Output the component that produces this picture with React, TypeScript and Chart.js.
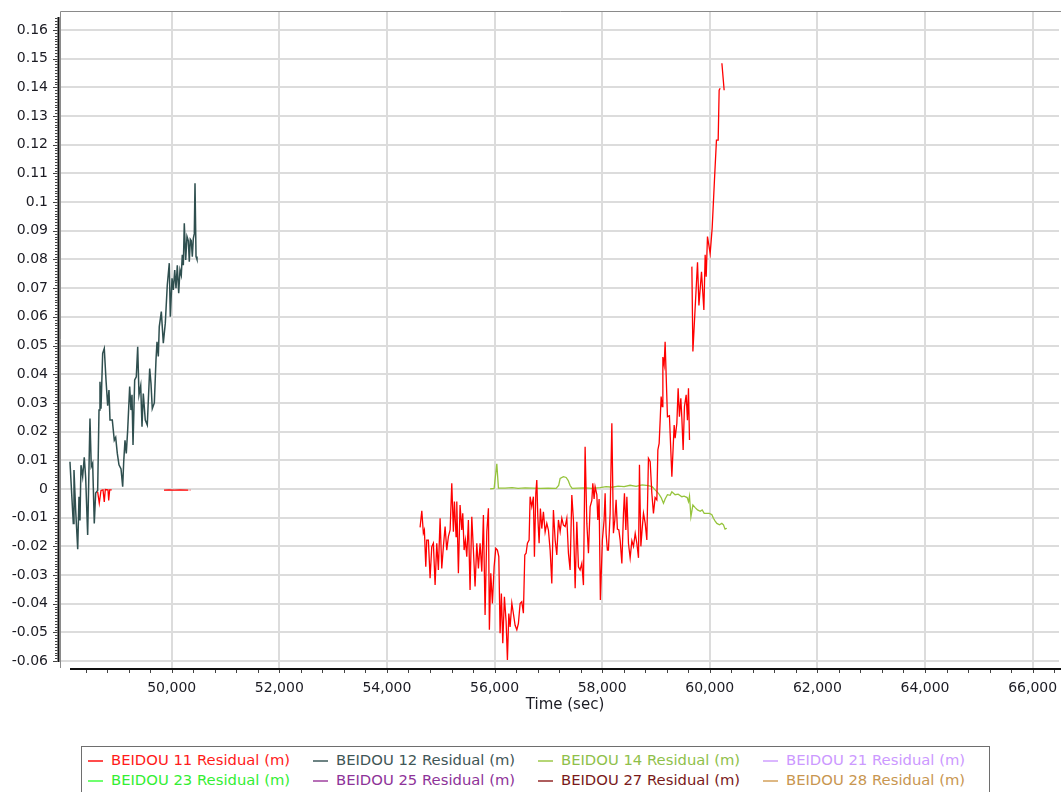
import React, { useEffect, useRef } from 'react';
import { Chart, registerables } from 'chart.js';

Chart.register(...registerables);

const FONT = "'DejaVu Sans', Verdana, sans-serif";
const X_MIN = 47924;
const X_MAX = 66490;
const Y_MIN = -0.0624;
const Y_MAX = 0.1666;
const X_TITLE = 'Time (sec)';

const xTickValues = [50000, 52000, 54000, 56000, 58000, 60000, 62000, 64000, 66000];
const yTickValues = [
  -0.06, -0.05, -0.04, -0.03, -0.02, -0.01, 0, 0.01, 0.02, 0.03, 0.04, 0.05, 0.06, 0.07, 0.08, 0.09, 0.1,
  0.11, 0.12, 0.13, 0.14, 0.15, 0.16,
];

const seriesNames = [
  'BEIDOU 11 Residual (m)', 'BEIDOU 12 Residual (m)', 'BEIDOU 14 Residual (m)', 'BEIDOU 21 Residual (m)',
  'BEIDOU 23 Residual (m)', 'BEIDOU 25 Residual (m)', 'BEIDOU 27 Residual (m)', 'BEIDOU 28 Residual (m)',
];
const seriesColors = ['#ff0000', '#2f4f4f', '#96c43c', '#cc99ff', '#33ff33', '#993399', '#8b1a1a', '#d09a50'];
const seriesWidths = [1.3, 1.5, 1.3, 1.3, 1.3, 1.3, 1.3, 1.3];
const legendTextColors = ['#ff1a1a', '#3f5656', '#8fbf4a', '#cc99ff', '#33ee33', '#8e3399', '#7a1a1a', '#c89650'];

// [time (sec), residual (m)] ; null = gap
const b11Points: [number, number | null][] = [
  [48624, -0.001], [48654, -0.005], [48686, -0.0005], [48723, -0.0003], [48747, -0.0045], [48766, -0.0002],
  [48816, -0.0003], [48829, -0.004], [48847, -0.0003], [48885, -0.0003], [49300, null],
  [49857, -0.0004], [49950, -0.0003], [50050, -0.0004], [50150, -0.0003], [50309, -0.0004], [50322, null],
  [50335, -0.0004], [50347, -0.0004], [50370, null], [50385, -0.0004], [50395, -0.0004], [50405, null],
  [50415, -0.0004], [50425, -0.0004], [52000, null],
  [54616, -0.0134], [54648, -0.0076], [54677, -0.0154], [54696, -0.0143], [54722, -0.0271], [54740, -0.0178],
  [54770, -0.0178], [54802, -0.0311], [54833, -0.0201], [54863, -0.0189], [54895, -0.0335], [54926, -0.0189],
  [54956, -0.0282], [54988, -0.0102], [55019, -0.0277], [55049, -0.0201], [55081, -0.0131], [55112, -0.0213],
  [55142, -0.0166], [55174, -0.0143], [55205, 0.002], [55235, -0.0149], [55254, -0.0044], [55285, -0.0166],
  [55298, -0.0044], [55328, -0.0294], [55359, -0.0056], [55391, -0.0143], [55409, -0.0085], [55434, -0.0213],
  [55458, -0.0178], [55484, -0.0236], [55514, -0.0108], [55545, -0.0352], [55577, -0.0097], [55607, -0.0213],
  [55638, -0.034], [55670, -0.0189], [55700, -0.0277], [55731, -0.0189], [55763, -0.0288], [55793, -0.0091],
  [55824, -0.0439], [55856, -0.0149], [55886, -0.0067], [55904, -0.0491], [55930, -0.0294], [55960, -0.0399],
  [55992, -0.0271], [56023, -0.0207], [56053, -0.0213], [56079, -0.0236], [56103, -0.0503], [56127, -0.0364],
  [56153, -0.0538], [56183, -0.0376], [56215, -0.0463], [56239, -0.0596], [56265, -0.0434], [56289, -0.0481],
  [56321, -0.0398], [56350, -0.0434], [56382, -0.0475], [56414, -0.0491], [56443, -0.0469], [56475, -0.0399],
  [56506, -0.0393], [56536, -0.0433], [56562, -0.023], [56586, -0.0224], [56611, -0.0189], [56642, -0.0178],
  [56661, -0.0027], [56692, -0.0062], [56722, -0.0027], [56741, -0.0236], [56767, -0.0015], [56785, 0.0031],
  [56804, -0.0097], [56828, -0.0189], [56852, -0.0068], [56878, -0.0138], [56908, -0.008], [56940, -0.015],
  [56971, -0.012], [57001, -0.0143], [57033, -0.0213], [57064, -0.0329], [57094, -0.0073], [57126, -0.0178],
  [57157, -0.023], [57187, -0.0108], [57219, -0.0149], [57250, -0.0102], [57280, -0.0126], [57312, -0.0131],
  [57343, -0.0102], [57373, -0.0224], [57404, -0.0282], [57436, -0.0021], [57466, -0.0108], [57498, -0.0346],
  [57529, -0.0114], [57559, -0.0271], [57590, -0.0282], [57622, -0.0259], [57652, -0.0335], [57683, 0.0147],
  [57715, -0.012], [57745, -0.0224], [57776, -0.0062], [57808, -0.004], [57826, 0.002], [57850, -0.0035],
  [57869, 0.0008], [57901, -0.002], [57919, -0.0108], [57943, -0.0035], [57967, -0.0387], [58004, -0.0178],
  [58036, -0.0108], [58055, -0.0015], [58073, -0.0155], [58097, -0.0213], [58116, -0.0213], [58148, -0.0085],
  [58180, 0.0229], [58209, -0.0154], [58235, -0.0108], [58259, -0.0038], [58283, -0.014], [58310, -0.0143],
  [58334, -0.0178], [58366, -0.026], [58396, -0.0085], [58414, -0.0015], [58440, -0.0143], [58459, -0.0027],
  [58489, -0.019], [58520, -0.024], [58552, -0.018], [58582, -0.02], [58614, -0.0155], [58645, -0.019],
  [58675, -0.024], [58693, 0.0084], [58719, -0.02], [58743, -0.014], [58768, -0.0085], [58800, -0.012],
  [58830, -0.0178], [58860, 0.0107], [58892, 0.0095], [58923, -0.0015], [58953, -0.0085], [58984, -0.003],
  [59016, -0.0038], [59035, 0.0136], [59059, 0.0159], [59078, 0.024], [59096, 0.0322], [59115, 0.0287],
  [59128, 0.046], [59152, 0.0432], [59170, 0.0513], [59213, 0.0252], [59250, 0.0255], [59295, 0.0043],
  [59338, 0.0223], [59356, 0.0177], [59388, 0.0229], [59412, 0.0351], [59436, 0.0252], [59462, 0.0316],
  [59481, 0.0246], [59505, 0.0136], [59529, 0.0287], [59561, 0.0328], [59585, 0.024], [59604, 0.0351],
  [59623, 0.0171], [59645, null], [59667, 0.0775], [59686, 0.0479], [59772, 0.079], [59798, 0.064],
  [59846, 0.0757], [59890, 0.0624], [59914, 0.0816], [59933, 0.074], [59957, 0.088], [60007, 0.0821],
  [60044, 0.0909], [60087, 0.1077], [60124, 0.1216], [60156, 0.1216], [60174, 0.139], [60193, 0.1397],
  [60210, null], [60225, 0.1484], [60267, 0.139],
];

const b12Points: [number, number | null][] = [
  [48109, 0.0095], [48171, -0.012], [48184, 0.0066], [48215, -0.0073], [48253, -0.021], [48277, -0.0027],
  [48295, -0.011], [48314, 0.0083], [48345, 0.0043], [48375, 0.011], [48401, 0.004], [48438, -0.016],
  [48481, 0.0246], [48505, 0.0078], [48531, 0.009], [48561, -0.012], [48587, -0.0014], [48624, -0.0005],
  [48649, 0.0275], [48667, 0.0374], [48686, 0.028], [48717, 0.0473], [48747, 0.049], [48779, 0.038],
  [48810, 0.029], [48834, 0.0345], [48853, 0.024], [48896, 0.024], [48933, 0.017], [48959, 0.018],
  [48989, 0.0124], [49020, 0.0084], [49058, 0.007], [49089, 0.0008], [49108, 0.0095], [49132, 0.017],
  [49156, 0.0124], [49182, 0.0206], [49219, 0.0357], [49243, 0.0275], [49262, 0.0328], [49281, 0.0153],
  [49312, 0.038], [49342, 0.0391], [49368, 0.0496], [49392, 0.0328], [49424, 0.036], [49448, 0.0217],
  [49472, 0.0333], [49509, 0.024], [49546, 0.0223], [49591, 0.042], [49615, 0.0368], [49639, 0.028],
  [49677, 0.03], [49708, 0.045], [49727, 0.0513], [49751, 0.0462], [49769, 0.0566], [49807, 0.0618],
  [49844, 0.0508], [49881, 0.0578], [49918, 0.0711], [49955, 0.0787], [49974, 0.06], [50006, 0.0734],
  [50030, 0.0694], [50056, 0.0763], [50080, 0.07], [50104, 0.078], [50130, 0.0682], [50154, 0.0763],
  [50178, 0.0745], [50197, 0.0816], [50216, 0.078], [50234, 0.0926], [50260, 0.0798], [50284, 0.088],
  [50309, 0.0865], [50327, 0.0792], [50346, 0.087], [50364, 0.0865], [50383, 0.081], [50402, 0.0874],
  [50420, 0.089], [50433, 0.1066], [50452, 0.081], [50470, 0.08],
];

const b14Points: [number, number | null][] = [
  [55917, 0.0], [55992, 0.0002], [56042, 0.0088], [56072, 0.0003], [56196, 0.0003], [56326, 0.0005],
  [56437, 0.0002], [56568, 0.0004], [56698, 0.0003], [56847, 0.0002], [56995, 0.0003], [57144, 0.0002],
  [57191, 0.0012], [57219, 0.0037], [57280, 0.0043], [57330, 0.004], [57367, 0.003], [57404, 0.0012],
  [57441, 0.0002], [57553, 0.0003], [57683, 0.0004], [57813, 0.0002], [57962, 0.0005], [58073, 0.0008],
  [58185, 0.0006], [58296, 0.001], [58408, 0.0008], [58519, 0.0013], [58631, 0.0009], [58742, 0.0014],
  [58854, 0.0012], [58928, 0.0008], [58984, -0.0003], [59046, -0.0015], [59096, -0.003], [59139, -0.005],
  [59170, -0.0035], [59213, -0.002], [59263, -0.0022], [59295, -0.001], [59356, -0.002], [59412, -0.0018],
  [59481, -0.0027], [59524, -0.0025], [59580, -0.003], [59604, -0.0044], [59623, -0.0025], [59649, -0.0097],
  [59686, -0.0056], [59729, -0.0065], [59772, -0.0073], [59822, -0.0078], [59859, -0.0073], [59896, -0.0085],
  [59946, -0.0085], [59994, -0.0085], [60039, -0.009], [60068, -0.0102], [60100, -0.0112], [60132, -0.012],
  [60180, -0.0125], [60224, -0.012], [60254, -0.0125], [60284, -0.014], [60316, -0.0137],
];

const b21Points: [number, number | null][] = [];
const b23Points: [number, number | null][] = [];
const b25Points: [number, number | null][] = [];
const b27Points: [number, number | null][] = [];
const b28Points: [number, number | null][] = [];

const seriesPoints = [b11Points, b12Points, b14Points, b21Points, b23Points, b25Points, b27Points, b28Points];

const TICK_COLOR = '#1c1c24';
const GRID_COLOR = '#dcdcdc';

const axesPlugin = {
  id: 'axesDeco',
  afterDraw(chart: any) {
    const { ctx, chartArea: a, scales } = chart;
    const xs = scales.x;
    const ys = scales.y;
    ctx.save();
    // gray frame
    ctx.strokeStyle = '#8a8a8a';
    ctx.lineWidth = 1;
    ctx.beginPath();
    ctx.moveTo(a.left + 0.5, a.bottom);
    ctx.lineTo(a.left + 0.5, a.top + 0.5);
    ctx.lineTo(a.right + 2, a.top + 0.5);
    ctx.stroke();
    // black axes
    ctx.strokeStyle = '#111111';
    ctx.lineWidth = 2;
    ctx.beginPath();
    ctx.moveTo(a.left - 1.5, a.top + 6);
    ctx.lineTo(a.left - 1.5, a.bottom - 6);
    ctx.stroke();
    ctx.beginPath();
    ctx.moveTo(a.left + 10, a.bottom + 1);
    ctx.lineTo(a.right + 2, a.bottom + 1);
    ctx.stroke();
    // y minor ticks
    ctx.lineWidth = 1;
    ctx.strokeStyle = '#444444';
    const y0 = Math.ceil(Y_MIN * 1000);
    const y1 = Math.floor(Y_MAX * 1000);
    for (let k = y0; k <= y1; k++) {
      const py = Math.round(ys.getPixelForValue(k / 1000)) + 0.5;
      if (py < a.top + 6 || py > a.bottom - 6) continue;
      const major = k % 10 === 0;
      ctx.beginPath();
      ctx.moveTo(a.left - 2.5, py);
      ctx.lineTo(a.left - (major ? 7 : 5), py);
      ctx.stroke();
    }
    // x minor ticks
    const x0 = Math.ceil(X_MIN / 400);
    const x1 = Math.floor(X_MAX / 400);
    for (let k = x0; k <= x1; k++) {
      const px = Math.round(xs.getPixelForValue(k * 400)) + 0.5;
      if (px < a.left + 10) continue;
      ctx.beginPath();
      ctx.moveTo(px, a.bottom + 2);
      ctx.lineTo(px, a.bottom + 5);
      ctx.stroke();
    }
    // axis title
    ctx.fillStyle = TICK_COLOR;
    ctx.font = `15px ${FONT}`;
    ctx.textAlign = 'center';
    ctx.textBaseline = 'middle';
    ctx.fillText(X_TITLE, 565, 705);
    ctx.restore();
  },
};

export default function App() {
  const canvasRef = useRef<HTMLCanvasElement | null>(null);

  useEffect(() => {
    document.body.style.margin = '0';
    document.body.style.overflow = 'hidden';
    const canvas = canvasRef.current;
    if (!canvas) return;
    Chart.defaults.font.family = FONT;
    const chart = new Chart(canvas, {
      type: 'line',
      data: {
        datasets: seriesNames.map((name, i) => ({
          label: name,
          data: seriesPoints[i].map(([x, y]) => ({ x, y })),
          borderColor: seriesColors[i],
          backgroundColor: seriesColors[i],
          borderWidth: seriesWidths[i],
          pointRadius: 0,
          tension: 0,
          spanGaps: false,
          fill: false,
        })),
      },
      options: {
        responsive: false,
        animation: false,
        devicePixelRatio: 1,
        layout: { padding: { top: 11, right: 2, bottom: 792 - 668 - 46, left: 0 } },
        plugins: { legend: { display: false }, tooltip: { enabled: false }, title: { display: false } },
        scales: {
          x: {
            type: 'linear',
            min: X_MIN,
            max: X_MAX,
            afterBuildTicks: (s: any) => { s.ticks = xTickValues.map((value) => ({ value })); },
            afterFit: (s: any) => { s.height = 46; s.paddingLeft = 0; s.paddingRight = 0; },
            border: { display: false },
            grid: { drawTicks: false, lineWidth: 2, color: GRID_COLOR },
            ticks: {
              autoSkip: false,
              maxRotation: 0,
              padding: 12,
              color: TICK_COLOR,
              font: { size: 14, family: FONT },
              callback: (v: any) => Number(v).toLocaleString('en-US'),
            },
          },
          y: {
            type: 'linear',
            min: Y_MIN,
            max: Y_MAX,
            afterBuildTicks: (s: any) => { s.ticks = yTickValues.map((value) => ({ value })); },
            afterFit: (s: any) => { s.width = 60; s.paddingTop = 0; s.paddingBottom = 0; },
            border: { display: false },
            grid: { drawTicks: false, lineWidth: 2, color: GRID_COLOR },
            ticks: {
              autoSkip: false,
              padding: 12,
              color: TICK_COLOR,
              font: { size: 14, family: FONT },
              callback: (v: any) => String(Math.round(Number(v) * 100) / 100),
            },
          },
        },
      },
      plugins: [axesPlugin],
    });
    return () => chart.destroy();
  }, []);

  return (
    <div style={{ position: 'relative', width: 1061, height: 792, overflow: 'hidden', background: '#fff' }}>
      <canvas ref={canvasRef} width={1061} height={792} style={{ position: 'absolute', left: 0, top: 0 }} />
      <div
        style={{
          position: 'absolute', left: 81, top: 746, width: 909, height: 60, boxSizing: 'border-box',
          border: '1px solid #6e6e6e', background: '#fff', fontFamily: FONT, fontSize: 14.8,
        }}
      >
        {seriesNames.map((name, i) => {
          const col = i % 4;
          const row = Math.floor(i / 4);
          return (
            <div
              key={name}
              style={{
                position: 'absolute', left: 6 + col * 225, top: 3 + row * 20, height: 20, lineHeight: '20px',
                whiteSpace: 'nowrap', color: legendTextColors[i],
              }}
            >
              <span
                style={{
                  display: 'inline-block', width: 15, height: 2, background: seriesColors[i],
                  verticalAlign: 'middle', marginRight: 8, opacity: 0.7,
                }}
              />
              {name}
            </div>
          );
        })}
      </div>
    </div>
  );
}
